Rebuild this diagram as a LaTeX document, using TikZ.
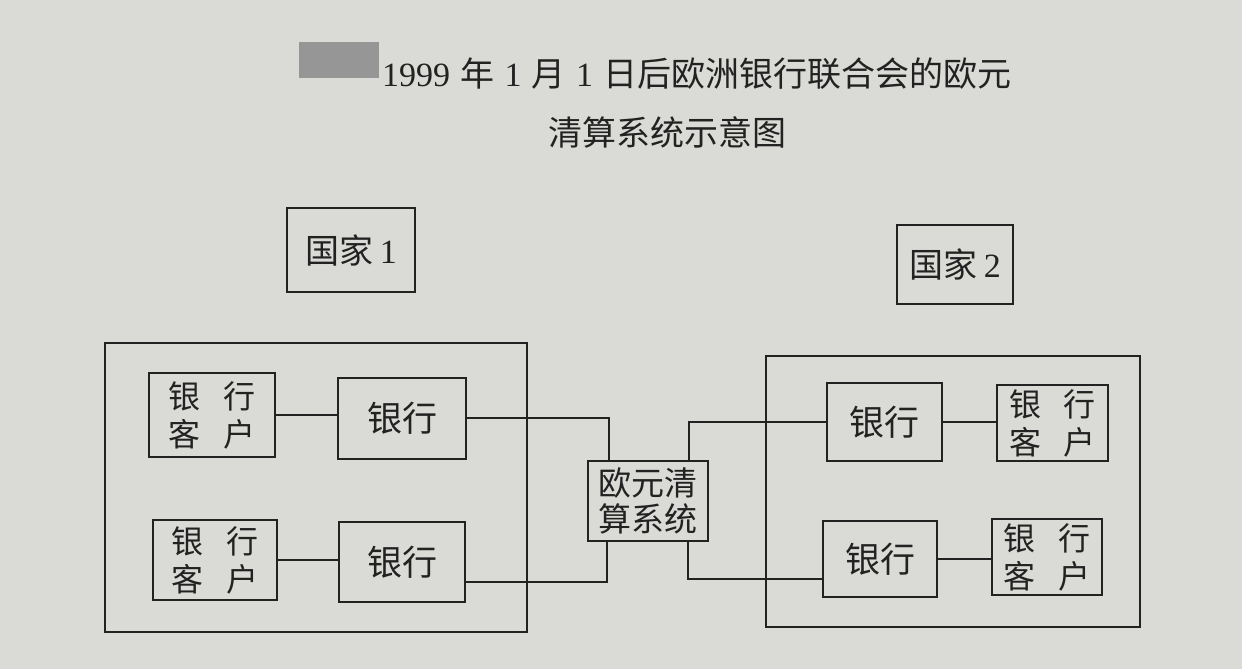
\documentclass[tikz,border=0pt]{standalone}
\usepackage{fontspec}
\setmainfont{Liberation Serif}
\newfontfamily\cjk{Noto Sans CJK SC}
\definecolor{paper}{RGB}{218,218,214}
\definecolor{ink}{RGB}{34,34,34}
\definecolor{blur}{RGB}{150,150,150}
\begin{document}
\begin{tikzpicture}[x=1pt,y=-1pt,
  box/.style={draw=ink,line width=2pt,rectangle,inner sep=0pt,text=ink,align=center},
  wire/.style={draw=ink,line width=2pt},
  bankbox/.style={box,font=\cjk\fontsize{35}{38}\selectfont},
  clientbox/.style={box,font=\cjk\fontsize{32}{38}\selectfont},
  titletext/.style={text=ink,inner sep=0pt,font=\fontsize{34}{38}\selectfont}]
\useasboundingbox (0,0) rectangle (1242,669);
\fill[paper] (0,0) rectangle (1242,669);
% title
\fill[blur] (299,42) rectangle (379,78);
\node[titletext,anchor=west] (t1) at (382,74) {1999\hspace{0.3em}{\cjk 年}\hspace{0.3em}1\hspace{0.3em}{\cjk 月}\hspace{0.3em}1\hspace{0.3em}{\cjk 日后欧洲银行联合会的欧元}};
\node[titletext] (t2) at (667,132) {\cjk 清算系统示意图};
% countries
\node[box,minimum width=128pt,minimum height=84pt,font=\fontsize{34}{38}\selectfont] (c1) at (351,250) {{\cjk 国家}\hspace{0.2em}1};
\node[box,minimum width=116pt,minimum height=79pt,font=\fontsize{34}{38}\selectfont] (c2) at (955,264.5) {{\cjk 国家}\hspace{0.2em}2};
% big frames
\draw[wire] (105,343) rectangle (527,632);
\draw[wire] (766,356) rectangle (1140,627);
% left side
\node[clientbox,minimum width=126pt,minimum height=84pt] (lc1) at (212,415) {银\hspace{0.7em}行\\客\hspace{0.7em}户};
\node[bankbox,minimum width=128pt,minimum height=81pt] (lb1) at (402,418) {银行};
\node[clientbox,minimum width=124pt,minimum height=80pt] (lc2) at (215,560) {银\hspace{0.7em}行\\客\hspace{0.7em}户};
\node[bankbox,minimum width=126pt,minimum height=80pt] (lb2) at (402,562) {银行};
% centre
\node[box,minimum width=120pt,minimum height=80pt,font=\cjk\fontsize{33}{36}\selectfont] (cs) at (648,501) {欧元清\\算系统};
% right side
\node[bankbox,minimum width=115pt,minimum height=78pt] (rb1) at (884.5,422) {银行};
\node[clientbox,minimum width=111pt,minimum height=76pt] (rc1) at (1052.5,423) {银\hspace{0.7em}行\\客\hspace{0.7em}户};
\node[bankbox,minimum width=114pt,minimum height=76pt] (rb2) at (880,559) {银行};
\node[clientbox,minimum width=110pt,minimum height=76pt] (rc2) at (1047,557) {银\hspace{0.7em}行\\客\hspace{0.7em}户};
% connectors
\draw[wire] (lc1.east) -- (lc1.east -| lb1.west);
\draw[wire] (lc2.east) -- (lc2.east -| lb2.west);
\draw[wire] (rb1.east) -- (rb1.east -| rc1.west);
\draw[wire] (rb2.east) -- (rb2.east -| rc2.west);
\draw[wire] (lb1.east) -| ([xshift=-39pt]cs.north);
\draw[wire] ([yshift=-20pt]lb2.east) -| ([xshift=-41pt]cs.south);
\draw[wire] (rb1.west) -| ([xshift=41pt]cs.north);
\draw[wire] ([yshift=-20pt]rb2.west) -| ([xshift=40pt]cs.south);
\end{tikzpicture}
\end{document}
